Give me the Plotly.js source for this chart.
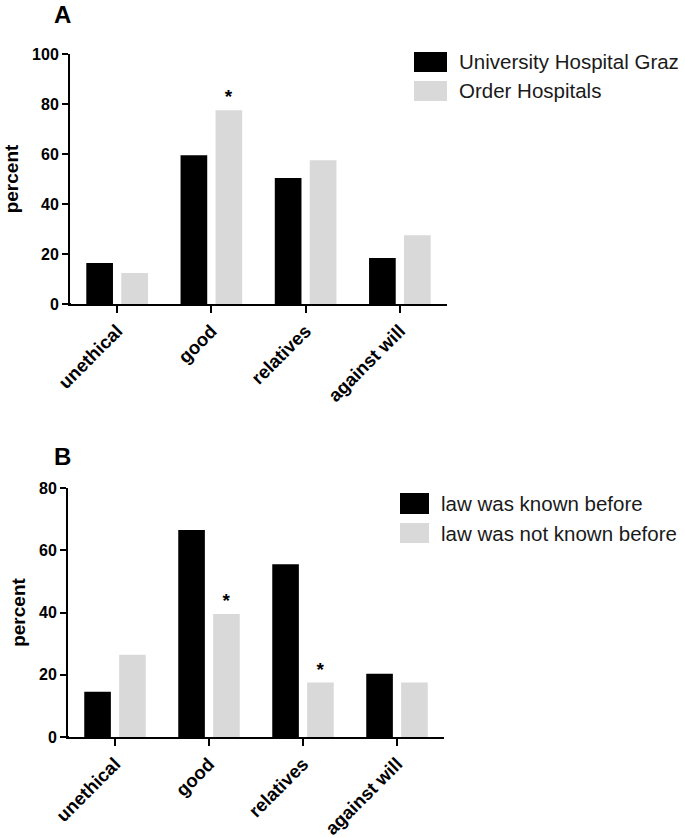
<!DOCTYPE html>
<html>
<head>
<meta charset="utf-8">
<script src="https://cdn.plot.ly/plotly-3.0.1.min.js"></script>
<style>html,body{margin:0;padding:0;background:#fff;}#chart{width:685px;height:838px;}</style>
</head>
<body>
<div id="chart"></div>
<script>
// ---- data ----
const categories = ['unethical', 'good', 'relatives', 'against will'];

const namesA = ['University Hospital Graz', 'Order Hospitals'];
const univGraz = [16.4, 59.5, 50.4, 18.4];
const orderHosp = [12.4, 77.5, 57.5, 27.5];
const sigUnivGraz = ['', '', '', ''];
const sigOrderHosp = ['', '*', '', ''];

const namesB = ['law was known before', 'law was not known before'];
const lawKnown = [14.5, 66.5, 55.5, 20.3];
const lawNotKnown = [26.4, 39.5, 17.5, 17.5];
const sigLawKnown = ['', '', '', ''];
const sigLawNotKnown = ['', '*', '*', ''];

const yTicksA = [0, 20, 40, 60, 80, 100];
const yTicksB = [0, 20, 40, 60, 80];
const panelLabels = ['A', 'B'];

// ---- layout helpers ----
const W = 685, H = 838;
const px = x => x / W;
const py = y => 1 - y / H;
const BLACK = '#000000', GREY = '#d9d9d9';
const FONT = 'Liberation Sans, Arial, sans-serif';

function barTrace(vals, sig, name, color, xa, ya) {
  return {
    type: 'bar', x: categories, y: vals, name: name,
    marker: {color: color, line: {width: 0}},
    text: sig, textposition: 'outside', cliponaxis: false,
    textfont: {family: FONT, size: 19, color: '#000', weight: 'bold'},
    textangle: 0, showlegend: false, hoverinfo: 'x+y',
    xaxis: xa, yaxis: ya
  };
}

const data = [
  barTrace(univGraz, sigUnivGraz, namesA[0], BLACK, 'x', 'y'),
  barTrace(orderHosp, sigOrderHosp, namesA[1], GREY, 'x', 'y'),
  barTrace(lawKnown, sigLawKnown, namesB[0], BLACK, 'x2', 'y2'),
  barTrace(lawNotKnown, sigLawNotKnown, namesB[1], GREY, 'x2', 'y2')
];

function xAxis(domain, anchor) {
  return {
    domain: domain, anchor: anchor, type: 'category', range: [-0.5, 3.5],
    showline: true, linecolor: '#000', linewidth: 2,
    ticks: 'outside', ticklen: 7, tickwidth: 2, tickcolor: '#000',
    tickangle: -45, showgrid: false, zeroline: false, fixedrange: true,
    tickfont: {family: FONT, size: 18.5, color: '#000', weight: 'bold'}
  };
}
function yAxis(domain, anchor, range, ticks) {
  return {
    domain: domain, anchor: anchor, range: range,
    tickvals: ticks, ticktext: ticks.map(String),
    showline: true, linecolor: '#000', linewidth: 2,
    ticks: 'outside', ticklen: 6, tickwidth: 2, tickcolor: '#000',
    showgrid: false, zeroline: false, fixedrange: true,
    tickfont: {family: FONT, size: 16, color: '#000', weight: 'bold'},
    title: {text: 'percent', font: {family: FONT, size: 19, color: '#000', weight: 'bold'}, standoff: 8}
  };
}

const shapes = [];
const annotations = [];

function legend(names, x0, x1, boxes, textX) {
  const colors = [BLACK, GREY];
  names.forEach((n, i) => {
    const b = boxes[i];
    shapes.push({type: 'rect', xref: 'paper', yref: 'paper',
      x0: px(x0), x1: px(x1), y0: py(b[1]), y1: py(b[0]),
      fillcolor: colors[i], line: {width: 0}});
    annotations.push({xref: 'paper', yref: 'paper', x: px(textX), y: py((b[0] + b[1]) / 2),
      xanchor: 'left', yanchor: 'middle', showarrow: false, text: n,
      font: {family: FONT, size: 20.5, color: '#1a1a1a'}});
  });
}
legend(namesA, 414, 447, [[52, 72], [81, 101]], 457);
legend(namesB, 400, 429, [[493, 514], [523, 543]], 439);

// small overhang of x axis line to the left of the y axis
shapes.push({type: 'line', xref: 'paper', yref: 'paper', x0: px(63), x1: px(71), y0: py(304), y1: py(304), line: {color: '#000', width: 2}});
shapes.push({type: 'line', xref: 'paper', yref: 'paper', x0: px(61), x1: px(69), y0: py(737), y1: py(737), line: {color: '#000', width: 2}});

annotations.push({xref: 'paper', yref: 'paper', x: px(63), y: py(15), text: '<b>' + panelLabels[0] + '</b>',
  showarrow: false, xanchor: 'center', yanchor: 'middle', font: {family: FONT, size: 24, color: '#000'}});
annotations.push({xref: 'paper', yref: 'paper', x: px(63), y: py(456), text: '<b>' + panelLabels[1] + '</b>',
  showarrow: false, xanchor: 'center', yanchor: 'middle', font: {family: FONT, size: 24, color: '#000'}});

const layout = {
  width: W, height: H,
  margin: {l: 0, r: 0, t: 0, b: 0},
  paper_bgcolor: '#fff', plot_bgcolor: '#fff',
  barmode: 'group', bargap: 0.258, bargroupgap: 0.237,
  showlegend: false,
  font: {family: FONT, color: '#000'},
  xaxis: xAxis([px(70), px(447)], 'y'),
  yaxis: yAxis([py(304), py(54)], 'x', [0, 100], yTicksA),
  xaxis2: xAxis([px(68), px(444)], 'y2'),
  yaxis2: yAxis([py(737), py(488)], 'x2', [0, 80], yTicksB),
  shapes: shapes,
  annotations: annotations
};

Plotly.newPlot('chart', data, layout, {staticPlot: true, displayModeBar: false});
</script>
</body>
</html>
